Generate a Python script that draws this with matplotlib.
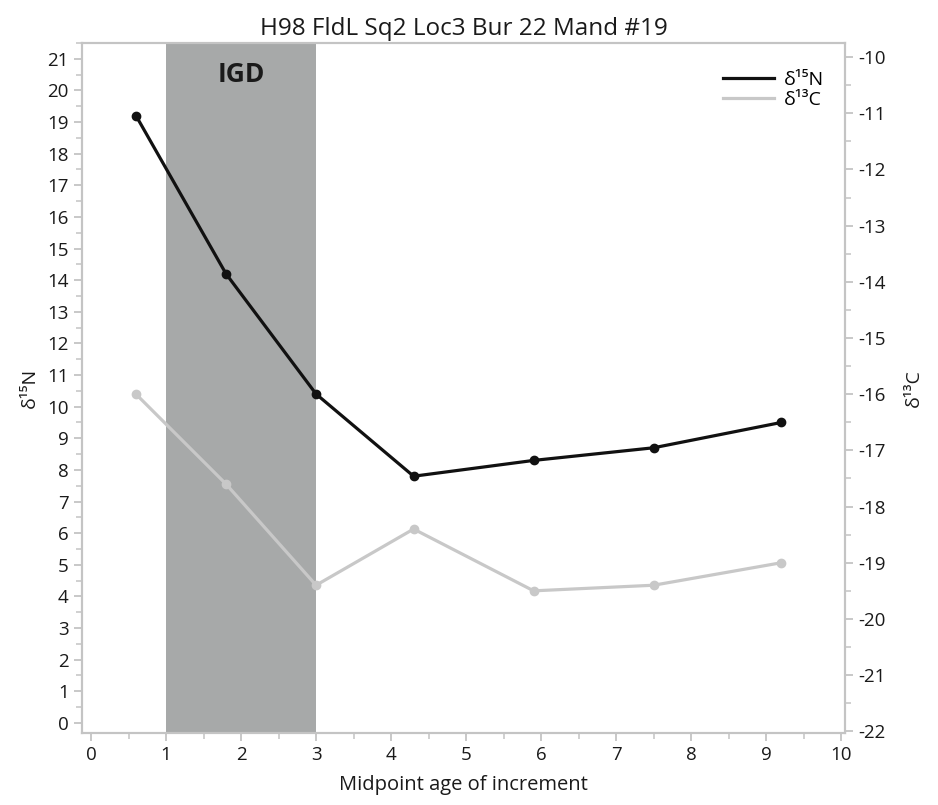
import matplotlib
matplotlib.use("Agg")
import matplotlib.pyplot as plt
from matplotlib.ticker import MultipleLocator
from matplotlib.lines import Line2D

plt.rcParams['font.family'] = ['Open Sans', 'Noto Sans', 'DejaVu Sans']
plt.rcParams['axes.unicode_minus'] = False

# data
age = [0.6, 1.8, 3.0, 4.3, 5.9, 7.5, 9.2]
d15n = [19.2, 14.2, 10.4, 7.8, 8.3, 8.7, 9.5]
d13c = [-16.0, -17.6, -19.4, -18.4, -19.5, -19.4, -19.0]
igd_span = (1, 3)

title = "H98 FldL Sq2 Loc3 Bur 22 Mand #19"
frame_col = '#c4c4c4'
text_col = '#1a1a1a'

fig = plt.figure(figsize=(9.38, 8.05), dpi=100)
ax = fig.add_axes([82 / 938, 1 - 733 / 805, (845 - 82) / 938, (733 - 43) / 805])
ax2 = ax.twinx()

ax.axvspan(igd_span[0], igd_span[1], color='#a7a9a9', zorder=0, lw=0)
ax.text(sum(igd_span) / 2, 20.5, 'IGD', ha='center', va='center',
        fontsize=19, fontweight='bold', color=text_col)

ax.plot(age, d15n, color='#111111', lw=2.3, marker='o', ms=6, zorder=3)
ax2.plot(age, d13c, color='#c8c8c8', lw=2.3, marker='o', ms=6, zorder=3)

ax.set_xlim(-0.12, 10.05)
ax.set_ylim(-0.32, 21.5)
ax2.set_ylim(-22.03, -9.75)

ax.xaxis.set_major_locator(MultipleLocator(1))
ax.xaxis.set_minor_locator(MultipleLocator(0.5))
ax.yaxis.set_major_locator(MultipleLocator(1))
ax.yaxis.set_minor_locator(MultipleLocator(0.5))
ax2.yaxis.set_major_locator(MultipleLocator(1))
ax2.yaxis.set_minor_locator(MultipleLocator(0.5))

for a in (ax, ax2):
    for s in a.spines.values():
        s.set_color(frame_col)
        s.set_linewidth(1.5)
    a.tick_params(which='major', length=6, width=1.3, color=frame_col,
                  labelsize=13.5, labelcolor=text_col)
    a.tick_params(which='minor', length=4, width=1.1, color=frame_col)

ax.set_xlabel('Midpoint age of increment', fontsize=14.5, color=text_col, labelpad=8)
ax.set_ylabel('δ¹⁵N', fontsize=14, color=text_col, labelpad=6)
ax2.set_ylabel('δ¹³C', fontsize=14, color=text_col, rotation=90, labelpad=14)
ax.set_title(title, fontsize=17.5, color=text_col, pad=6)

handles = [Line2D([], [], color='#111111', lw=2.3),
           Line2D([], [], color='#c8c8c8', lw=2.3)]
ax.legend(handles, ['δ¹⁵N', 'δ¹³C'], loc='upper right', frameon=False,
          bbox_to_anchor=(0.995, 0.985), fontsize=14, handlelength=2.6,
          handletextpad=0.5, labelspacing=0.1)

fig.savefig('out.png', dpi=100)
